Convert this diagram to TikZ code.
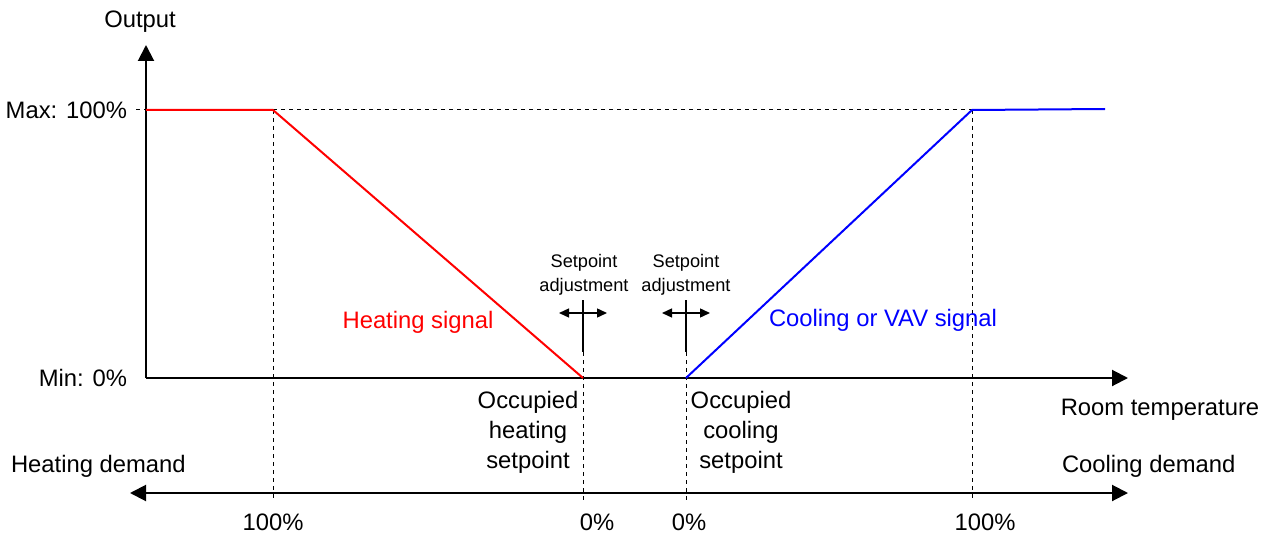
\documentclass[tikz,border=0pt]{standalone}
\usepackage{fontspec}
\setmainfont{Liberation Sans}
\usetikzlibrary{arrows.meta}
\begin{document}
\begin{tikzpicture}[x=0.5pt, y=-0.5pt, line width=1pt]
    \tikzset{lbl/.style={font=\fontsize{11.9}{15}\selectfont, inner sep=0pt, align=center},
             small/.style={font=\fontsize{9.1}{12}\selectfont, inner sep=0pt, align=center},
             guide/.style={line width=0.5pt, dash pattern=on 2pt off 2pt},
             axis/.style={-{Triangle[width=8pt, length=8pt]}},
             adj/.style={line width=0.7pt, -{Triangle[width=4.5pt, length=5pt]}}};

    \useasboundingbox (0, 0) rectangle (1273, 535);

    % Key points
    \path (146, 378) coordinate (o);
    \path (146, 45) coordinate (ytip);
    \path (1128, 378) coordinate (xtip);
    \path (146, 110) coordinate (max);
    \path (136, 110) coordinate (maxl);
    \path (273, 110) coordinate (hk);
    \path (583, 378) coordinate (hs);
    \path (686, 378) coordinate (cs);
    \path (972, 110) coordinate (ck);
    \path (1105, 109) coordinate (ce);

    % Demand axis
    \path (130, 493) coordinate (dl);
    \path (1128, 493) coordinate (dr);

    % Setpoint bars
    \path (583, 300) coordinate (ht);
    \path (583, 352) coordinate (hb);
    \path (686, 300) coordinate (ct);
    \path (686, 352) coordinate (cb);

    % Guide ends
    \foreach \n/\x in {a/273, b/583, c/686, d/972} { \path (\x, 500) coordinate (g\n); };

    % Guides
    \draw[guide] (maxl) -- (max);
    \draw[guide] (hk) -- (ck);
    \draw[guide] (hk) -- (ga);
    \draw[guide] (ck) -- (gd);
    \draw[guide] (hb) -- (gb);
    \draw[guide] (cb) -- (gc);

    % Axes
    \draw[axis] (o) -- (ytip);
    \draw[axis] (o) -- (xtip);
    \draw[{Triangle[width=8pt, length=8pt]}-{Triangle[width=8pt, length=8pt]}] (dl) -- (dr);

    % Signals
    \draw[red] (max) -- (hk) -- (hs);
    \draw[blue] (cs) -- (ck) -- (ce);

    % Setpoint adjustment
    \foreach \s in {h, c} {
      \draw (\s t) -- (\s b);
      \path (\s t) ++(0, 13) coordinate (\s m);
      \path (\s m) ++(-24, 0) coordinate (\s l);
      \path (\s m) ++(24, 0) coordinate (\s r);
      \draw[adj] (\s m) -- (\s l);
      \draw[adj] (\s m) -- (\s r);
    };

    % Labels
    \node[lbl] (out) at (140, 22) {Output};
    \node[lbl, anchor=east] (maxlab) at (128, 110) {Max: 100\%};
    \node[lbl, anchor=east] (minlab) at (128, 378) {Min: 0\%};
    \node[lbl] (room) at (1160, 410) {Room temperature};
    \node[lbl, anchor=west] (hdem) at (10, 466) {Heating demand};
    \node[lbl, anchor=west] (cdem) at (1061, 466) {Cooling demand};
    \node[lbl, text=red] (hsig) at (418, 322) {Heating signal};
    \node[lbl, text=blue] (csig) at (883, 320) {Cooling or VAV signal};
    \node[small] (hadj) at (584, 275) {Setpoint\\adjustment};
    \node[small] (cadj) at (686, 275) {Setpoint\\adjustment};
    \node[lbl] (hocc) at (528, 432) {Occupied\\heating\\setpoint};
    \node[lbl] (cocc) at (741, 432) {Occupied\\cooling\\setpoint};
    \foreach \x/\t in {273/100, 597/0, 689/0, 985/100} {
      \node[lbl] (p\x) at (\x, 522) {\t\%};
    };
  \end{tikzpicture}
\end{document}
